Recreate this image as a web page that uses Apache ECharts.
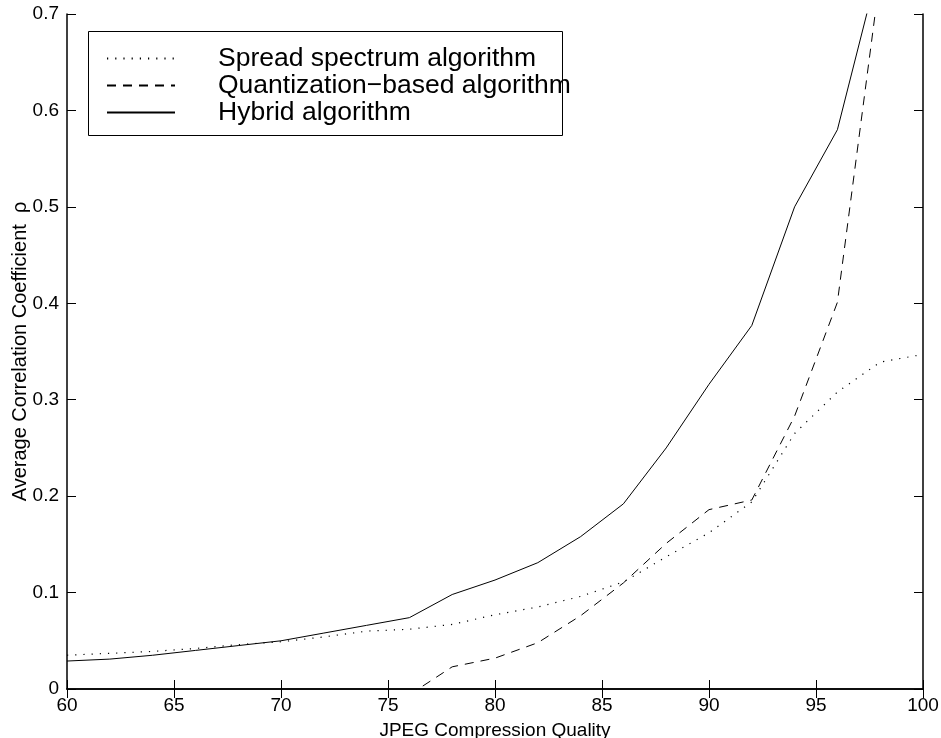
<!DOCTYPE html>
<html>
<head>
<meta charset="utf-8">
<script src="https://cdn.jsdelivr.net/npm/echarts@6/dist/echarts.min.js"></script>
<style>
html,body{margin:0;padding:0;background:#fff;}
#chart{width:941px;height:738px;}
</style>
</head>
<body>
<div id="chart"></div>
<script>
var quality = [60,62,64,66,68,70,72,74,76,78,80,82,84,86,88,90,92,94,96,98,100];
var spreadSpectrum = [0.035,0.037,0.039,0.042,0.046,0.049,0.054,0.060,0.062,0.067,0.077,0.085,0.096,0.111,0.137,0.162,0.194,0.265,0.308,0.339,0.347];
var quantization = [null,null,null,null,null,null,null,null,-0.006,0.023,0.032,0.048,0.076,0.110,0.151,0.186,0.196,0.283,0.401,0.74,null];
var hybrid = [0.029,0.031,0.035,0.040,0.045,0.050,0.058,0.066,0.074,0.098,0.113,0.131,0.158,0.192,0.250,0.316,0.377,0.500,0.580,0.755,null];
var seriesNames = ['Spread spectrum algorithm','Quantization\u2212based algorithm','Hybrid algorithm'];
var xTicks = {min:60, max:100, interval:5};
var yTicks = {min:0, max:0.7, interval:0.1};

function pairs(vals){
  return quality.map(function(q,i){ return [q, vals[i]]; });
}

var font = 'Liberation Sans, Arial, Helvetica, sans-serif';
var chart = echarts.init(document.getElementById('chart'));
var axisLine = {show:true, lineStyle:{color:'#000', width:1.5}};
var tick = {show:true, inside:true, length:9, lineStyle:{color:'#000', width:1}};
chart.setOption({
  animation:false,
  backgroundColor:'#fff',
  grid:{left:67, right:18, top:14, bottom:49, containLabel:false, outerBoundsMode:'none'},
  xAxis:[{
    type:'value', min:xTicks.min, max:xTicks.max, interval:xTicks.interval,
    position:'bottom',
    name:'JPEG Compression Quality', nameLocation:'middle', nameGap:32, nameMoveOverlap:false,
    nameTextStyle:{color:'#000', fontSize:19, fontFamily:font},
    axisLine:axisLine, axisTick:tick, splitLine:{show:false},
    axisLabel:{color:'#000', fontSize:19, fontFamily:font, margin:7}
  },{
    type:'value', min:xTicks.min, max:xTicks.max, interval:xTicks.interval,
    position:'top', axisLine:axisLine, axisTick:tick, splitLine:{show:false},
    axisLabel:{show:false}
  }],
  yAxis:[{
    type:'value', min:yTicks.min, max:yTicks.max, interval:yTicks.interval,
    position:'left',
    name:'Average Correlation Coefficient  \u03c1', nameLocation:'middle', nameGap:37, nameRotate:90, nameMoveOverlap:false,
    nameTextStyle:{color:'#000', fontSize:20, fontFamily:font},
    axisLine:axisLine, axisTick:tick, splitLine:{show:false},
    axisLabel:{color:'#000', fontSize:19, fontFamily:font, margin:8}
  },{
    type:'value', min:yTicks.min, max:yTicks.max, interval:yTicks.interval,
    position:'right', axisLine:axisLine, axisTick:tick, splitLine:{show:false},
    axisLabel:{show:false}
  }],
  legend:{
    show:true, orient:'vertical', left:106, top:45, padding:0, itemGap:0,
    itemWidth:68, itemHeight:14,
    itemStyle:{opacity:0},
    textStyle:{color:'#000', fontSize:26.5, fontFamily:font, lineHeight:26.2, padding:[0,0,0,38]},
    data:seriesNames
  },
  graphic:[{
    type:'rect', shape:{x:88.5, y:31.5, width:474, height:104},
    style:{fill:'none', stroke:'#000', lineWidth:1}, z:100
  }],
  series:[
    {name:seriesNames[0], type:'line', data:pairs(spreadSpectrum), symbol:'none', clip:true,
      lineStyle:{color:'#000', width:1.2, type:[1.2,7]}, itemStyle:{color:'#000'}},
    {name:seriesNames[1], type:'line', data:pairs(quantization), symbol:'none', clip:true,
      lineStyle:{color:'#000', width:1, type:[9,7]}, itemStyle:{color:'#000'}},
    {name:seriesNames[2], type:'line', data:pairs(hybrid), symbol:'none', clip:true,
      lineStyle:{color:'#000', width:1, type:'solid'}, itemStyle:{color:'#000'}}
  ]
});
</script>
</body>
</html>
